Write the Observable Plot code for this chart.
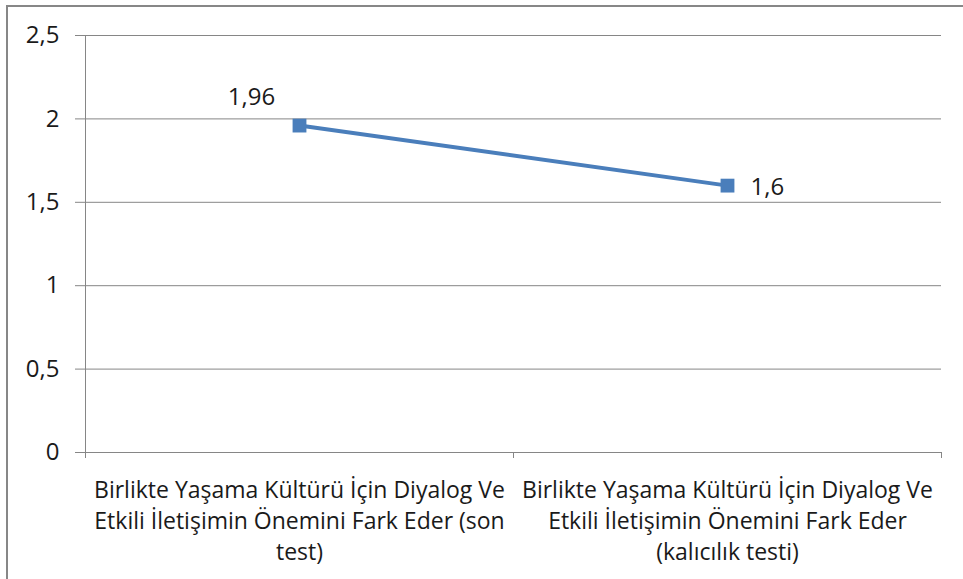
<!DOCTYPE html>
<html>
<head>
<meta charset="utf-8">
<script src="https://cdn.jsdelivr.net/npm/d3@7"></script>
<script src="https://cdn.jsdelivr.net/npm/@observablehq/plot@0.6"></script>
<style>
  html, body { margin: 0; padding: 0; background: #fff; overflow: hidden; }
  #wrap { position: relative; width: 963px; height: 579px; }
  #border { position: absolute; left: 6px; top: 5px; width: 1000px; height: 700px; border: 2px solid #878787; box-sizing: border-box; pointer-events: none; }
  #chart { position: absolute; left: 0; top: 0; }
</style>
</head>
<body>
<div id="wrap"><div id="chart"></div><div id="border"></div></div>
<script>
const categories = [
  "Birlikte Yaşama Kültürü İçin Diyalog Ve\nEtkili İletişimin Önemini Fark Eder (son\ntest)",
  "Birlikte Yaşama Kültürü İçin Diyalog Ve\nEtkili İletişimin Önemini Fark Eder\n(kalıcılık testi)"
];
const values = [1.96, 1.6];
const valueLabels = ["1,96", "1,6"];
const yTicks = [0, 0.5, 1, 1.5, 2, 2.5];

const data = categories.map((c, i) => ({ pos: i + 0.5, cat: c, value: values[i], label: valueLabels[i] }));
const fmt = d => String(d).replace(".", ",");
const FONT = "Open Sans, sans-serif";
const blue = "#4a7ebb";
const grid = "#868686";

const chart = Plot.plot({
  width: 963,
  height: 579,
  marginLeft: 85,
  marginRight: 22,
  marginTop: 35,
  marginBottom: 127,
  style: { fontFamily: FONT, fontSize: "20px", color: "#000", background: "transparent" },
  x: { type: "linear", domain: [0, 2], axis: null },
  y: { type: "linear", domain: [0, 2.5], axis: null },
  marks: [
    Plot.ruleY(yTicks, { x1: 0, x2: 2, y: d => d, stroke: grid, strokeWidth: 1, insetLeft: -10 }),
    Plot.ruleX([0], { x: d => d, y1: 0, y2: 2.5, stroke: grid, strokeWidth: 1 }),
    Plot.text(yTicks, { x: 0, y: d => d, text: fmt, textAnchor: "end", dx: -26, fontSize: 24, fill: "#1a1a1a" }),
    Plot.ruleX([0, 1, 2], { x: d => d, y1: 0, y2: 0, stroke: grid, strokeWidth: 1, insetBottom: -6 }),
    Plot.text(data, { x: "pos", y: 0, text: "cat", lineAnchor: "top", dy: 24, lineHeight: 1.34, fontSize: 23, fill: "#1a1a1a" }),
    Plot.line(data, { x: "pos", y: "value", stroke: blue, strokeWidth: 4 }),
    Plot.dot(data, { x: "pos", y: "value", symbol: "square", r: 7.8, fill: blue, stroke: "none" }),
    Plot.text(data.slice(0, 1), { x: "pos", y: "value", text: "label", dx: -48, dy: -28, fontSize: 24, fill: "#1a1a1a" }),
    Plot.text(data.slice(1), { x: "pos", y: "value", text: "label", textAnchor: "start", dx: 23, dy: 2, fontSize: 24, fill: "#1a1a1a" })
  ]
});
document.getElementById("chart").appendChild(chart);
</script>
</body>
</html>
